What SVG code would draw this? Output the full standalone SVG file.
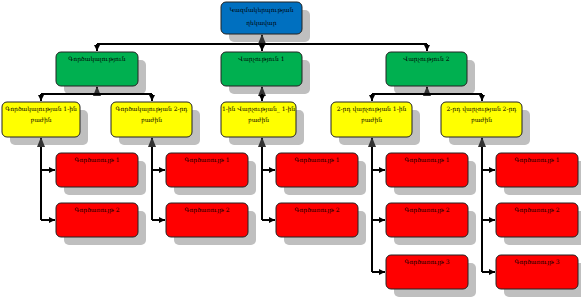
<svg xmlns="http://www.w3.org/2000/svg" width="581" height="297" viewBox="0 0 581 297">
<defs>
<marker id="big" markerWidth="10" markerHeight="8" refX="9" refY="4" orient="auto" markerUnits="userSpaceOnUse" viewBox="0 0 10 8"><path d="M0,0 L10,4 L0,8 Z" fill="#333"/></marker>
<marker id="small" markerWidth="6" markerHeight="6" refX="6" refY="3" orient="auto" markerUnits="userSpaceOnUse" viewBox="0 0 6 6"><path d="M0,0 L6,3 L0,6 Z" fill="#000"/></marker>
</defs>
<style>
.sh{fill:#BFBFBF}
.b{stroke:#222;stroke-width:1}
.blue{fill:#0070C0}.green{fill:#00B050}.yellow{fill:#FFFF00}.red{fill:#FF0000}
text{font-family:"DejaVu Serif","Liberation Serif",serif;font-size:6px;fill:#000;text-anchor:middle}
.c{fill:none;stroke:#000;stroke-width:2}
</style>
<rect width="581" height="297" fill="#fff"/>
<g id="n-top"><rect class="sh" x="229" y="10" width="81" height="32" rx="5"/><rect class="blue b" x="221" y="2" width="81" height="32" rx="5"/><text x="261.5" y="12">Կազմակերպության</text><text x="261.5" y="25">ղեկավար</text></g>
<g id="n-g1"><rect class="sh" x="64" y="60" width="82" height="34" rx="5"/><rect class="green b" x="56" y="52" width="82" height="34" rx="5"/><text x="97" y="61">Գործակալություն</text></g>
<g id="n-g2"><rect class="sh" x="229" y="60" width="81" height="34" rx="5"/><rect class="green b" x="221" y="52" width="81" height="34" rx="5"/><text x="261.5" y="61">Վարչություն 1</text></g>
<g id="n-g3"><rect class="sh" x="394" y="60" width="81" height="34" rx="5"/><rect class="green b" x="386" y="52" width="81" height="34" rx="5"/><text x="426.5" y="61">Վարչություն 2</text></g>
<g id="n-y1"><rect class="sh" x="10" y="110" width="78" height="35" rx="5"/><rect class="yellow b" x="2" y="102" width="78" height="35" rx="5"/><text x="41" y="111">Գործակալության 1-ին</text><text x="41" y="122">բաժին</text></g>
<g id="n-y2"><rect class="sh" x="119" y="110" width="81" height="35" rx="5"/><rect class="yellow b" x="111" y="102" width="81" height="35" rx="5"/><text x="151.5" y="111">Գործակալության 2-րդ</text><text x="151.5" y="122">բաժին</text></g>
<g id="n-y3"><rect class="sh" x="229" y="110" width="75" height="35" rx="5"/><rect class="yellow b" x="221" y="102" width="75" height="35" rx="5"/><text x="258.5" y="111">1-ին Վարչության_ 1-ին</text><text x="258.5" y="122">բաժին</text></g>
<g id="n-y4"><rect class="sh" x="339" y="110" width="81" height="35" rx="5"/><rect class="yellow b" x="331" y="102" width="81" height="35" rx="5"/><text x="371.5" y="111">2-րդ վարչության 1-ին</text><text x="371.5" y="122">բաժին</text></g>
<g id="n-y5"><rect class="sh" x="449" y="110" width="81" height="35" rx="5"/><rect class="yellow b" x="441" y="102" width="81" height="35" rx="5"/><text x="481.5" y="111">2-րդ վարչության 2-րդ</text><text x="481.5" y="122">բաժին</text></g>
<g id="n-r11"><rect class="sh" x="64" y="161" width="82" height="34" rx="5"/><rect class="red b" x="56" y="153" width="82" height="34" rx="5"/><text x="97" y="162">Գործառույթ 1</text></g>
<g id="n-r12"><rect class="sh" x="64" y="211" width="82" height="34" rx="5"/><rect class="red b" x="56" y="203" width="82" height="34" rx="5"/><text x="97" y="212">Գործառույթ 2</text></g>
<g id="n-r21"><rect class="sh" x="174" y="161" width="82" height="34" rx="5"/><rect class="red b" x="166" y="153" width="82" height="34" rx="5"/><text x="207" y="162">Գործառույթ 1</text></g>
<g id="n-r22"><rect class="sh" x="174" y="211" width="82" height="34" rx="5"/><rect class="red b" x="166" y="203" width="82" height="34" rx="5"/><text x="207" y="212">Գործառույթ 2</text></g>
<g id="n-r31"><rect class="sh" x="284" y="161" width="82" height="34" rx="5"/><rect class="red b" x="276" y="153" width="82" height="34" rx="5"/><text x="317" y="162">Գործառույթ 1</text></g>
<g id="n-r32"><rect class="sh" x="284" y="211" width="82" height="34" rx="5"/><rect class="red b" x="276" y="203" width="82" height="34" rx="5"/><text x="317" y="212">Գործառույթ 2</text></g>
<g id="n-r41"><rect class="sh" x="394" y="161" width="82" height="34" rx="5"/><rect class="red b" x="386" y="153" width="82" height="34" rx="5"/><text x="427" y="162">Գործառույթ 1</text></g>
<g id="n-r42"><rect class="sh" x="394" y="211" width="82" height="34" rx="5"/><rect class="red b" x="386" y="203" width="82" height="34" rx="5"/><text x="427" y="212">Գործառույթ 2</text></g>
<g id="n-r43"><rect class="sh" x="394" y="263" width="82" height="34" rx="5"/><rect class="red b" x="386" y="255" width="82" height="34" rx="5"/><text x="427" y="264">Գործառույթ 3</text></g>
<g id="n-r51"><rect class="sh" x="504" y="161" width="82" height="34" rx="5"/><rect class="red b" x="496" y="153" width="82" height="34" rx="5"/><text x="537" y="162">Գործառույթ 1</text></g>
<g id="n-r52"><rect class="sh" x="504" y="211" width="82" height="34" rx="5"/><rect class="red b" x="496" y="203" width="82" height="34" rx="5"/><text x="537" y="212">Գործառույթ 2</text></g>
<g id="n-r53"><rect class="sh" x="504" y="263" width="82" height="34" rx="5"/><rect class="red b" x="496" y="255" width="82" height="34" rx="5"/><text x="537" y="264">Գործառույթ 3</text></g>
<g id="connectors">
<path class="c" d="M262,44 V35" marker-end="url(#big)"/>
<path class="c" d="M97,44 H427"/>
<path class="c" d="M97,44 V51" marker-end="url(#small)"/>
<path class="c" d="M262,44 V51" marker-end="url(#small)"/>
<path class="c" d="M427,44 V51" marker-end="url(#small)"/>
<path class="c" d="M97,94 V87" marker-end="url(#big)"/>
<path class="c" d="M41,94 H152"/>
<path class="c" d="M41,94 V101" marker-end="url(#small)"/>
<path class="c" d="M152,94 V101" marker-end="url(#small)"/>
<path class="c" d="M262,94 V87" marker-end="url(#big)"/>
<path class="c" d="M262,94 V101" marker-end="url(#small)"/>
<path class="c" d="M427,94 V87" marker-end="url(#big)"/>
<path class="c" d="M372,94 H482"/>
<path class="c" d="M372,94 V101" marker-end="url(#small)"/>
<path class="c" d="M482,94 V101" marker-end="url(#small)"/>
<path class="c" d="M41,220 V138" marker-end="url(#big)"/>
<path class="c" d="M41,170 H55" marker-end="url(#small)"/>
<path class="c" d="M41,220 H55" marker-end="url(#small)"/>
<path class="c" d="M152,220 V138" marker-end="url(#big)"/>
<path class="c" d="M152,170 H165" marker-end="url(#small)"/>
<path class="c" d="M152,220 H165" marker-end="url(#small)"/>
<path class="c" d="M262,220 V138" marker-end="url(#big)"/>
<path class="c" d="M262,170 H275" marker-end="url(#small)"/>
<path class="c" d="M262,220 H275" marker-end="url(#small)"/>
<path class="c" d="M372,272 V138" marker-end="url(#big)"/>
<path class="c" d="M372,170 H385" marker-end="url(#small)"/>
<path class="c" d="M372,220 H385" marker-end="url(#small)"/>
<path class="c" d="M372,272 H385" marker-end="url(#small)"/>
<path class="c" d="M482,272 V138" marker-end="url(#big)"/>
<path class="c" d="M482,170 H495" marker-end="url(#small)"/>
<path class="c" d="M482,220 H495" marker-end="url(#small)"/>
<path class="c" d="M482,272 H495" marker-end="url(#small)"/>
</g>
</svg>
